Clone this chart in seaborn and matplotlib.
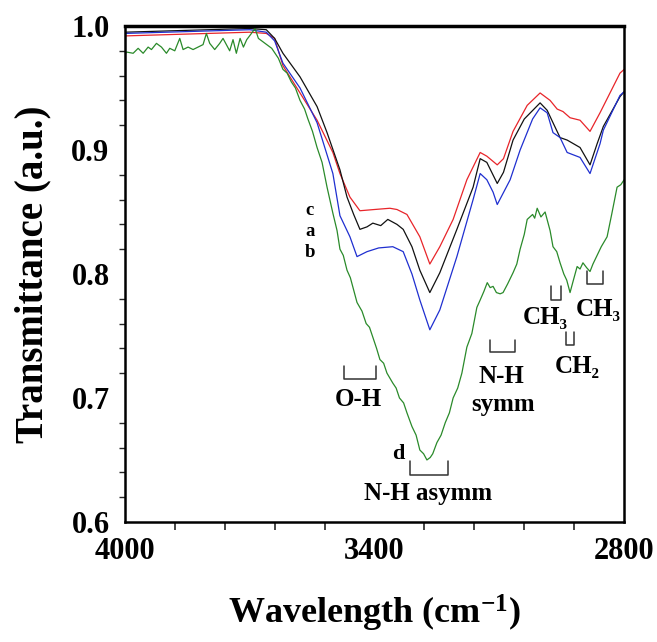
import numpy as np
import pandas as pd
import matplotlib
matplotlib.use("Agg")
import matplotlib.pyplot as plt
import seaborn as sns

# ---------------- data ----------------
wn_a = [4000, 3900, 3800, 3700, 3660, 3640, 3620, 3579, 3538, 3514, 3483, 3466, 3450, 3435,
        3418, 3404, 3385, 3368, 3346, 3331, 3310, 3291, 3267, 3243, 3202, 3163, 3146, 3130,
        3105, 3090, 3067, 3040, 3002, 2985, 2971, 2954, 2937, 2906, 2882, 2865, 2850, 2810, 2800]
t_a = [0.995, 0.996, 0.997, 0.998, 0.997, 0.990, 0.978, 0.959, 0.935, 0.914, 0.884, 0.862, 0.848, 0.836,
       0.838, 0.841, 0.839, 0.844, 0.840, 0.836, 0.822, 0.803, 0.785, 0.801, 0.836, 0.870, 0.893, 0.890,
       0.873, 0.882, 0.908, 0.925, 0.938, 0.932, 0.922, 0.910, 0.908, 0.902, 0.888, 0.905, 0.919, 0.943, 0.947]

wn_b = [4000, 3900, 3800, 3700, 3660, 3640, 3620, 3579, 3538, 3500, 3483, 3459, 3442, 3418,
        3390, 3356, 3331, 3310, 3291, 3267, 3243, 3202, 3163, 3146, 3130, 3115, 3105, 3074,
        3050, 3020, 3002, 2985, 2971, 2954, 2937, 2906, 2882, 2858, 2850, 2810, 2800]
t_b = [0.994, 0.995, 0.996, 0.997, 0.995, 0.988, 0.970, 0.950, 0.922, 0.881, 0.847, 0.830, 0.814, 0.818,
       0.821, 0.822, 0.818, 0.800, 0.779, 0.755, 0.771, 0.814, 0.860, 0.881, 0.876, 0.866, 0.856, 0.876,
       0.900, 0.925, 0.934, 0.930, 0.914, 0.910, 0.898, 0.894, 0.881, 0.905, 0.916, 0.944, 0.947]

wn_c = [4000, 3900, 3800, 3700, 3660, 3640, 3620, 3579, 3538, 3500, 3483, 3459, 3435, 3400,
        3363, 3346, 3322, 3291, 3267, 3243, 3211, 3178, 3146, 3130, 3105, 3090, 3067, 3033,
        3002, 2978, 2961, 2947, 2930, 2906, 2882, 2858, 2834, 2810, 2800]
t_c = [0.992, 0.993, 0.994, 0.995, 0.994, 0.990, 0.968, 0.946, 0.924, 0.898, 0.881, 0.862, 0.851, 0.852,
       0.853, 0.852, 0.848, 0.830, 0.808, 0.822, 0.844, 0.876, 0.898, 0.895, 0.888, 0.893, 0.915, 0.936,
       0.946, 0.940, 0.933, 0.931, 0.926, 0.924, 0.915, 0.930, 0.946, 0.962, 0.965]

wn_d = [4000, 3996, 3980, 3968, 3956, 3944, 3936, 3924, 3912, 3900, 3892, 3880, 3868, 3860,
        3848, 3836, 3824, 3812, 3804, 3796, 3784, 3772, 3764, 3756, 3748, 3740, 3732, 3723,
        3715, 3707, 3698, 3687, 3679, 3671, 3659, 3647, 3639, 3631, 3620, 3610, 3600, 3590,
        3579, 3568, 3560, 3549, 3538, 3526, 3514, 3500, 3490, 3483, 3475, 3466, 3458, 3450,
        3442, 3430, 3420, 3412, 3404, 3395, 3387, 3378, 3370, 3356, 3348, 3340, 3330, 3322,
        3310, 3300, 3291, 3282, 3274, 3266, 3260, 3250, 3240, 3230, 3220, 3211, 3200, 3190,
        3178, 3166, 3154, 3146, 3137, 3129, 3122, 3115, 3107, 3098, 3091, 3080, 3067, 3058,
        3050, 3040, 3033, 3020, 3015, 3009, 3000, 2990, 2978, 2971, 2962, 2954, 2945, 2938,
        2930, 2922, 2913, 2906, 2899, 2890, 2882, 2875, 2865, 2855, 2841, 2830, 2817, 2808, 2800]
t_d = [0.977, 0.979, 0.978, 0.982, 0.978, 0.983, 0.981, 0.986, 0.983, 0.978, 0.982, 0.980, 0.990, 0.981,
       0.983, 0.981, 0.983, 0.985, 0.994, 0.986, 0.981, 0.986, 0.990, 0.985, 0.980, 0.989, 0.978, 0.990,
       0.983, 0.989, 0.993, 0.998, 0.990, 0.988, 0.985, 0.982, 0.978, 0.974, 0.965, 0.962, 0.955, 0.950,
       0.940, 0.933, 0.925, 0.915, 0.902, 0.890, 0.870, 0.849, 0.835, 0.820, 0.815, 0.803, 0.797, 0.787,
       0.777, 0.770, 0.760, 0.757, 0.749, 0.740, 0.731, 0.728, 0.720, 0.712, 0.708, 0.700, 0.696, 0.688,
       0.677, 0.670, 0.658, 0.655, 0.650, 0.652, 0.655, 0.664, 0.670, 0.680, 0.688, 0.700, 0.708, 0.720,
       0.741, 0.752, 0.773, 0.779, 0.786, 0.793, 0.789, 0.790, 0.785, 0.784, 0.785, 0.792, 0.801, 0.808,
       0.820, 0.832, 0.844, 0.848, 0.845, 0.853, 0.846, 0.850, 0.835, 0.822, 0.818, 0.809, 0.800, 0.795,
       0.785, 0.795, 0.806, 0.804, 0.809, 0.805, 0.802, 0.808, 0.815, 0.822, 0.830, 0.848, 0.870, 0.872, 0.876]

series_names = ["c", "a", "b", "d"]
series_colors = ["#e8252a", "#111111", "#1f2fd0", "#2a8a2a"]

y_ticks = [0.6, 0.7, 0.8, 0.9, 1.0]
y_ticklabels = ["0.6", "0.7", "0.8", "0.9", "1.0"]
x_ticks = [4000, 3400, 2800]
x_ticklabels = ["4000", "3400", "2800"]

# ---------------- figure ----------------
sns.set_theme(style="white")
plt.rcParams["font.family"] = ["Liberation Serif", "DejaVu Serif"]
plt.rcParams["font.weight"] = "bold"
plt.rcParams["text.color"] = "black"
plt.rcParams["axes.labelcolor"] = "black"
plt.rcParams["mathtext.fontset"] = "custom"
plt.rcParams["mathtext.rm"] = "Liberation Serif:bold"
plt.rcParams["mathtext.bf"] = "Liberation Serif:bold"
plt.rcParams["mathtext.it"] = "Liberation Serif:bold"

df = pd.concat([
    pd.DataFrame({"wn": wn_c, "T": t_c, "s": "c"}),
    pd.DataFrame({"wn": wn_a, "T": t_a, "s": "a"}),
    pd.DataFrame({"wn": wn_b, "T": t_b, "s": "b"}),
    pd.DataFrame({"wn": wn_d, "T": t_d, "s": "d"}),
], ignore_index=True)

fig = plt.figure(figsize=(6.57, 6.42), dpi=100)
ax = fig.add_axes([0.190, 0.187, 0.760, 0.7725])

sns.lineplot(data=df, x="wn", y="T", hue="s", hue_order=series_names,
             palette=dict(zip(series_names, series_colors)), estimator=None,
             sort=False, linewidth=0.9, legend=False, ax=ax)

ax.set_xlim(4000, 2800)
ax.set_ylim(0.6, 1.0)
ax.set_xticks(x_ticks)
ax.set_xticklabels(x_ticklabels)
ax.set_xticks(np.arange(4000, 2799, -120), minor=True)
ax.set_yticks(y_ticks)
ax.set_yticklabels(y_ticklabels)
ax.set_yticks(np.arange(0.6, 1.0001, 0.02), minor=True)

ax.tick_params(axis="x", which="major", direction="out", length=7.5, width=1.5,
               labelsize=22, pad=3, colors="black")
ax.tick_params(axis="x", which="minor", direction="out", length=6, width=1.2, bottom=True)
ax.tick_params(axis="y", which="major", direction="inout", length=10, width=1.5,
               labelsize=22, pad=6, colors="black")
ax.tick_params(axis="y", which="minor", direction="out", length=4, width=1.0, left=True)
for lab in ax.get_xticklabels() + ax.get_yticklabels():
    lab.set_fontweight("bold")

for sp in ax.spines.values():
    sp.set_visible(True)
    sp.set_color("black")
    sp.set_linewidth(1.8)
ax.spines["top"].set_linewidth(2.5)

ax.set_xlabel(r"Wavelength (cm$^{-1}$)", fontsize=26, fontweight="bold", labelpad=20,
              color="black")
ax.set_ylabel("Transmittance (a.u.)", fontsize=28, fontweight="bold", labelpad=14,
              color="black")

# ---------------- annotations ----------------
tkw = dict(fontsize=13.5, fontweight="bold", ha="center", va="center", color="black")
ax.text(3555, 0.851, "c", **tkw)
ax.text(3555, 0.834, "a", **tkw)
ax.text(3555, 0.817, "b", **tkw)
ax.text(3343, 0.655, "d", fontsize=16, fontweight="bold", ha="center", va="center",
        color="black")

def bracket(x0, x1, ytop, ybot):
    ax.plot([x0, x0, x1, x1], [ytop, ybot, ybot, ytop], color="#333333", lw=1.1)

bkw = dict(fontsize=18, fontweight="bold", ha="center", va="center", color="black")
bracket(3473, 3396, 0.726, 0.715)
ax.text(3440, 0.699, "O-H", **bkw)
bracket(3315, 3223, 0.649, 0.638)
ax.text(3271, 0.623, "N-H asymm", **bkw)
bracket(3122, 3062, 0.747, 0.737)
ax.text(3096, 0.717, "N-H", **bkw)
ax.text(3090, 0.695, "symm", **bkw)
bracket(2976, 2951, 0.790, 0.779)
ax.text(2990, 0.765, "CH₃", **bkw)
bracket(2939, 2920, 0.753, 0.743)
ax.text(2913, 0.725, "CH₂", **bkw)
bracket(2889, 2852, 0.802, 0.792)
ax.text(2862, 0.771, "CH₃", **bkw)

fig.savefig("out.png", dpi=100)
